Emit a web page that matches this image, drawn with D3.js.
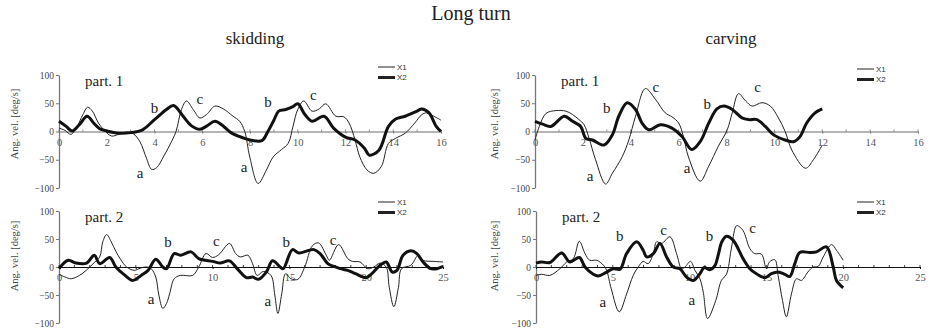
<!DOCTYPE html>
<html>
<head>
<meta charset="utf-8">
<script src="https://cdn.jsdelivr.net/npm/d3@7"></script>
<style>
  html, body { margin: 0; padding: 0; background: #fff; }
  svg { display: block; }
</style>
</head>
<body>
<svg id="chart" width="931" height="333"></svg>
<script>
// Angular velocity traces [time, deg/s] for the two sensors X1 (thin) and X2 (thick)
const skid1X1 = [[0,6],[0.25,2],[0.5,-5],[0.75,8],[1.0,30],[1.2,43],[1.4,36],[1.65,15],[1.9,2],[2.2,-8],[2.5,-5],[2.8,-1],[3.11,-4],[3.39,-18],[3.67,-48],[3.88,-67],[4.09,-64],[4.37,-45],[4.64,-24],[4.9,0],[5.13,39],[5.34,54],[5.62,39],[5.9,24],[6.18,30],[6.53,45],[6.88,40],[7.29,27],[7.57,18],[7.78,0],[7.99,-45],[8.34,-92],[8.69,-68],[8.97,-45],[9.32,-32],[9.6,-21],[9.8,9],[10.0,39],[10.25,54],[10.6,36],[10.9,40],[11.17,49],[11.6,27],[11.93,26],[12.15,15],[12.4,-15],[12.6,-45],[12.9,-68],[13.18,-74],[13.5,-62],[13.8,-21],[14.1,-12],[14.5,-3],[14.9,15],[15.2,30],[15.4,33],[15.7,27],[16,20]];
const skid1X2 = [[0,18],[0.3,9],[0.55,1],[0.85,12],[1.18,27],[1.45,15],[1.7,5],[2.0,1],[2.5,-3],[3.0,-2],[3.5,3],[4.0,21],[4.5,39],[4.8,46],[5.2,27],[5.55,10],[5.9,4],[6.2,10],[6.53,18],[6.9,9],[7.2,-2],[7.5,-8],[8.0,-15],[8.5,-16],[8.75,0],[9.0,20],[9.2,36],[9.5,39],[9.8,44],[10.0,49],[10.3,30],[10.6,18],[11.1,27],[11.5,6],[12.0,-10],[12.4,-15],[12.8,-30],[13.0,-42],[13.4,-33],[13.8,9],[14.1,22],[14.5,27],[15.0,36],[15.2,40],[15.5,33],[15.8,9],[16,0]];

const skid2X1 = [[0,-13],[0.4,-18],[0.8,-21],[1.5,-12],[2.0,0],[2.3,8],[2.65,18],[2.85,45],[3.1,58],[3.4,45],[3.7,28],[4.0,14],[4.4,0],[4.9,-6],[5.3,-2],[5.7,0],[6.0,-3],[6.3,-18],[6.5,-50],[6.76,-74],[7.0,-65],[7.2,-48],[7.5,-21],[7.9,-15],[8.7,-15],[9.1,0],[9.57,24],[10,17],[10.4,22],[11.1,42],[11.5,24],[11.8,18],[12.3,21],[12.6,6],[12.9,-15],[13.3,-8],[13.8,-15],[14.05,-50],[14.25,-83],[14.5,-48],[14.75,-12],[15.1,-21],[15.55,-22],[16.0,0],[16.5,38],[16.9,43],[17.4,21],[17.6,12],[18.2,40],[18.8,15],[19.1,10],[19.6,9],[20.1,-3],[20.5,0],[20.9,7],[21.3,0],[21.5,-36],[21.8,-71],[22.1,-36],[22.3,-3],[22.9,3],[23.4,21],[23.7,12],[24.4,10],[25,9]];
const skid2X2 = [[0,-3],[0.6,12],[1.1,7],[1.8,7],[2.3,21],[2.65,6],[3.3,17],[3.7,0],[4.3,-15],[4.8,-24],[5.35,-15],[5.8,-6],[6.3,14],[6.76,0],[7.0,-3],[7.5,24],[7.9,21],[8.6,27],[9.1,15],[10,10],[10.5,7],[11.1,11],[11.6,-3],[12.2,-19],[12.6,-18],[13.0,-22],[13.5,-9],[13.9,11],[14.4,0],[14.6,-3],[15.2,31],[15.6,25],[16.3,30],[16.6,31],[17.0,24],[17.5,6],[17.9,1],[18.3,-3],[18.8,-6],[19.3,-12],[20,-19],[20.4,-11],[20.9,3],[21.3,9],[21.7,-9],[22.0,-6],[22.4,21],[22.9,29],[23.3,24],[23.7,9],[24.2,-3],[24.6,-3],[25,1]];

const carv1X1 = [[0,-15],[0.18,9],[0.46,32],[0.87,37],[1.29,36],[1.57,30],[1.84,21],[2.05,12],[2.26,-12],[2.53,-50],[2.95,-93],[3.23,-74],[3.64,-45],[3.92,-15],[4.2,27],[4.61,76],[5.03,57],[5.44,33],[5.72,26],[6.0,15],[6.2,-9],[6.41,-45],[6.9,-88],[7.25,-62],[7.66,-26],[8.03,3],[8.24,33],[8.5,67],[8.8,54],[9.07,45],[9.48,51],[9.83,45],[10.17,24],[10.45,0],[10.73,-33],[11.3,-65],[11.63,-50],[12,-24]];
const carv1X2 = [[0,18],[0.32,13],[0.66,9],[1.22,27],[1.57,18],[1.91,9],[2.12,-12],[2.4,-15],[2.88,-24],[3.23,-6],[3.5,27],[3.85,51],[4.2,39],[4.47,15],[4.75,3],[5.24,12],[5.72,6],[6.14,-9],[6.55,-32],[6.9,-18],[7.27,16],[7.6,40],[7.89,45],[8.24,39],[8.65,24],[8.93,21],[9.27,21],[9.62,9],[9.97,-6],[10.45,-15],[10.8,-18],[11.07,-9],[11.35,15],[11.7,33],[12,40]];

const carv2X1 = [[0,-15],[0.37,-13],[0.9,-15],[1.56,-3],[2.0,9],[2.43,15],[2.82,46],[3.19,24],[3.5,12],[3.95,12],[4.4,3],[4.6,-6],[4.9,-39],[5.42,-80],[5.9,-48],[6.33,-15],[6.66,0],[6.98,10],[7.3,6],[7.64,24],[7.85,45],[8.18,42],[8.72,54],[9.15,24],[9.48,-3],[9.7,0],[10.06,10],[10.35,-6],[10.67,-21],[10.89,-45],[11.17,-92],[11.7,-60],[12.07,-24],[12.4,-13],[12.7,30],[13.0,72],[13.1,74],[13.48,65],[13.92,33],[14.24,24],[14.68,23],[15.0,-3],[15.2,9],[15.55,13],[15.76,-15],[16.05,-60],[16.3,-89],[16.63,-48],[16.96,-21],[17.28,-24],[17.7,-9],[18.04,0],[18.37,1],[18.7,18],[19.24,40],[19.56,30],[20,12]];
const carv2X2 = [[0,7],[0.37,9],[0.9,8],[1.67,25],[2.2,9],[2.82,17],[3.19,0],[3.73,-13],[4.05,-16],[4.6,-9],[5.03,-3],[5.47,-4],[5.9,24],[6.55,45],[6.98,30],[7.2,18],[7.64,24],[8.07,42],[8.5,18],[8.94,0],[9.37,-3],[9.8,-18],[10.24,-24],[10.67,-12],[10.95,-1],[11.3,-5],[11.64,2],[11.85,20],[12.1,45],[12.4,55],[12.83,48],[13.48,15],[13.92,-3],[14.35,-12],[14.9,-19],[15.33,-12],[15.76,-9],[16.2,-13],[16.52,-17],[16.85,6],[17.17,26],[17.83,26],[18.26,27],[18.91,36],[19.35,0],[19.56,-24],[20,-37]];

// Phase markers (a, b, c) placed in data coordinates
const skid1Marks = [["a",3.4,-74],["b",4.0,42],["c",5.9,57],["a",7.75,-63],["b",8.75,53],["c",10.65,64]];
const skid2Marks = [["a",6.0,-58],["b",7.1,44],["c",10.25,46],["a",13.6,-60],["b",14.8,44],["c",17.85,48]];
const carv1Marks = [["a",2.3,-79],["b",3.0,42],["c",5.05,78],["a",6.35,-65],["b",7.2,49],["c",9.3,78]];
const carv2Marks = [["a",4.35,-63],["b",5.45,55],["c",8.3,66],["a",10.15,-59],["b",11.3,55],["c",14.1,69]];

// Tick values
const part1Ticks = [0, 2, 4, 6, 8, 10, 12, 14, 16];
const part2Ticks = [0, 5, 10, 15, 20, 25];
const yTicks = [-100, -50, 0, 50, 100];
const seriesNames = ["X1", "X2"];

const serif = "'Liberation Serif', 'Times New Roman', serif";
const sans = "'Liberation Sans', Arial, sans-serif";

const panels = [
  { left: 59, right: 441, top: 75, bottom: 188, xMax: 16, ticks: part1Ticks, s1: skid1X1, s2: skid1X2, marks: skid1Marks, part: "part. 1", legX: 378, legY: 67, zeroColor: "#6d6d6d", labX: 14, labY: 124 },
  { left: 59, right: 443, top: 211, bottom: 323, xMax: 25, ticks: part2Ticks, s1: skid2X1, s2: skid2X2, marks: skid2Marks, part: "part. 2", legX: 378, legY: 202, zeroColor: "#111", labX: 14, labY: 256 },
  { left: 535, right: 918, top: 75, bottom: 188, xMax: 16, ticks: part1Ticks, s1: carv1X1, s2: carv1X2, marks: carv1Marks, part: "part. 1", legX: 857, legY: 69, zeroColor: "#6d6d6d", labX: 494, labY: 124 },
  { left: 536, right: 920, top: 211, bottom: 323, xMax: 25, ticks: part2Ticks, s1: carv2X1, s2: carv2X2, marks: carv2Marks, part: "part. 2", legX: 857, legY: 202, zeroColor: "#111", labX: 494, labY: 256 }
];

const svg = d3.select("#chart");
svg.append("rect").attr("width", 931).attr("height", 333).attr("fill", "#fff");

svg.append("text").attr("x", 471).attr("y", 20).attr("text-anchor", "middle")
  .attr("font-family", serif).attr("font-size", 20).attr("fill", "#222").text("Long turn");
svg.append("text").attr("x", 255).attr("y", 44).attr("text-anchor", "middle")
  .attr("font-family", serif).attr("font-size", 17).attr("fill", "#222").text("skidding");
svg.append("text").attr("x", 731).attr("y", 44).attr("text-anchor", "middle")
  .attr("font-family", serif).attr("font-size", 17).attr("fill", "#222").text("carving");

panels.forEach(p => {
  const x = d3.scaleLinear().domain([0, p.xMax]).range([p.left, p.right]);
  const y = d3.scaleLinear().domain([-100, 100]).range([p.bottom, p.top]);
  const g = svg.append("g");

  // y axis
  const yAxis = g.append("g").attr("transform", `translate(${p.left},0)`)
    .call(d3.axisLeft(y).tickValues(yTicks).tickSize(3).tickSizeOuter(0).tickPadding(2)
      .tickFormat(d3.format("d")));
  yAxis.select(".domain").attr("stroke", "#777").attr("stroke-width", 1.3);
  yAxis.selectAll(".tick line").attr("stroke", "#777");
  yAxis.selectAll("text").attr("font-family", serif).attr("font-size", 9.5).attr("fill", "#444");

  // minor x ticks at every unit
  g.append("g").selectAll("line").data(d3.range(0, p.xMax + 1))
    .join("line")
    .attr("x1", d => x(d)).attr("x2", d => x(d))
    .attr("y1", y(0) - 2).attr("y2", y(0))
    .attr("stroke", p.zeroColor).attr("stroke-width", 0.8);

  // x axis on the zero line
  const xAxis = g.append("g").attr("transform", `translate(0,${y(0)})`)
    .call(d3.axisBottom(x).tickValues(p.ticks).tickSize(2).tickSizeOuter(0).tickPadding(5));
  xAxis.select(".domain").attr("stroke", p.zeroColor).attr("stroke-width", 1.2);
  xAxis.selectAll(".tick line").attr("stroke", p.zeroColor);
  xAxis.selectAll("text").attr("font-family", serif).attr("font-size", 10.5).attr("fill", "#555");

  // axis title
  g.append("text")
    .attr("transform", `translate(${p.labX},${p.labY}) rotate(-90)`)
    .attr("text-anchor", "middle").attr("dominant-baseline", "central")
    .attr("font-family", serif).attr("font-size", 10.5).attr("fill", "#444")
    .text("Ang. vel. [deg/s]");

  // part label
  g.append("text").attr("x", p.left + 26).attr("y", p.top + 11)
    .attr("font-family", serif).attr("font-size", 15).attr("fill", "#222").text(p.part);

  // traces
  const line = d3.line().x(d => x(d[0])).y(d => y(d[1])).curve(d3.curveCatmullRom.alpha(0.5));
  g.append("path").datum(p.s1).attr("d", line)
    .attr("fill", "none").attr("stroke", "#222").attr("stroke-width", 1);
  g.append("path").datum(p.s2).attr("d", line)
    .attr("fill", "none").attr("stroke", "#111").attr("stroke-width", 3)
    .attr("stroke-linejoin", "round");

  // phase markers
  g.append("g").selectAll("text").data(p.marks).join("text")
    .attr("x", d => x(d[1])).attr("y", d => y(d[2]))
    .attr("text-anchor", "middle").attr("dominant-baseline", "central")
    .attr("font-family", serif).attr("font-size", 15).attr("fill", "#222")
    .text(d => d[0]);

  // legend
  const leg = g.append("g").attr("transform", `translate(${p.legX},${p.legY})`);
  seriesNames.forEach((name, i) => {
    leg.append("line").attr("x1", 0).attr("x2", 17).attr("y1", i * 10.5).attr("y2", i * 10.5)
      .attr("stroke", "#222").attr("stroke-width", i === 0 ? 1 : 3);
    leg.append("text").attr("x", 19).attr("y", i * 10.5).attr("dominant-baseline", "central")
      .attr("font-family", sans).attr("font-size", 8).attr("fill", "#333").text(name);
  });
});
</script>
</body>
</html>
